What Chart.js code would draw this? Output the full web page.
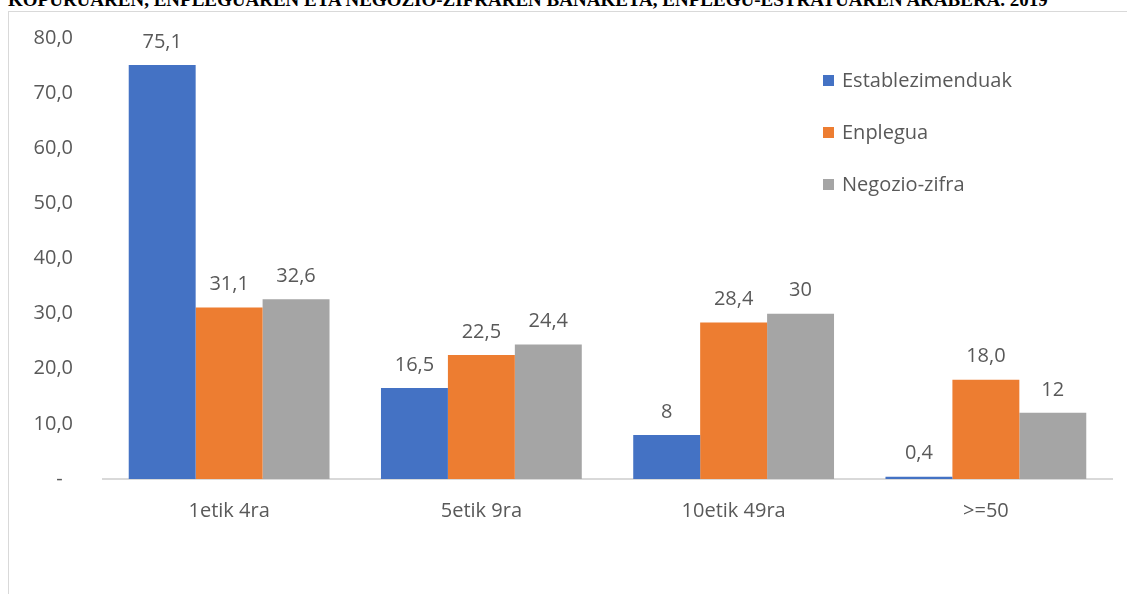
<!DOCTYPE html>
<html>
<head>
<meta charset="utf-8">
<script src="https://cdn.jsdelivr.net/npm/chart.js@4"></script>
<style>
    html, body { margin: 0; padding: 0; background: #fff; overflow: hidden; }
    body { width: 1127px; height: 594px; position: relative; }
    #title {
        position: absolute; left: 8px; top: -11px; white-space: nowrap;
        font-family: "Liberation Serif", "DejaVu Serif", serif; font-weight: bold;
        font-size: 19px; color: #000;
    }
    #frame {
        position: absolute; left: 8px; top: 11px; width: 1140px; height: 600px;
        border: 1px solid #d9d9d9; box-sizing: border-box;
    }
    #wrap { position: absolute; left: 1px; top: 1px; width: 1118px; height: 582px; }
</style>
</head>
<body>
<div id="title">KOPURUAREN, ENPLEGUAREN ETA NEGOZIO-ZIFRAREN BANAKETA, ENPLEGU-ESTRATUAREN ARABERA. 2019</div>
<div id="frame">
    <div id="wrap"><canvas id="grafikoa"></canvas></div>
</div>
<script>
const CATEGORIES = ['1etik 4ra', '5etik 9ra', '10etik 49ra', '>=50'];

const SERIES_NAMES = ['Establezimenduak', 'Enplegua', 'Negozio-zifra'];

const ESTABLEZIMENDUAK = [75.1, 16.5, 8, 0.4];
const ENPLEGUA = [31.1, 22.5, 28.4, 18.0];
const NEGOZIO_ZIFRA = [32.6, 24.4, 30, 12];

// labels as printed above the bars in the original
const ESTABLEZIMENDUAK_LABELS = ['75,1', '16,5', '8', '0,4'];
const ENPLEGUA_LABELS = ['31,1', '22,5', '28,4', '18,0'];
const NEGOZIO_ZIFRA_LABELS = ['32,6', '24,4', '30', '12'];

const Y_TICKS = [0, 10, 20, 30, 40, 50, 60, 70, 80];

const COLORS = ['#4472c4', '#ed7d31', '#a5a5a5'];
const FONT = '"Open Sans", Lato, sans-serif';
const FONT_SIZE = 20;
const TEXT = '#595959';

const valueLabels = {
    id: 'valueLabels',
    afterDatasetsDraw(chart) {
        const ctx = chart.ctx;
        ctx.save();
        ctx.font = FONT_SIZE + 'px ' + FONT;
        ctx.fillStyle = TEXT;
        ctx.textAlign = 'center';
        ctx.textBaseline = 'middle';
        chart.data.datasets.forEach((ds, i) => {
            chart.getDatasetMeta(i).data.forEach((bar, j) => {
                ctx.fillText(ds.valueLabels[j], bar.x, bar.y - 23);
            });
        });
        ctx.restore();
    }
};

const insideLegend = {
    id: 'insideLegend',
    afterDraw(chart) {
        const ctx = chart.ctx;
        ctx.save();
        ctx.font = FONT_SIZE + 'px ' + FONT;
        ctx.textBaseline = 'middle';
        ctx.textAlign = 'left';
        chart.data.datasets.forEach((ds, i) => {
            const y = 68 + i * 52;
            ctx.fillStyle = ds.backgroundColor;
            ctx.fillRect(813, y - 6, 11, 11);
            ctx.fillStyle = TEXT;
            ctx.fillText(ds.label, 832, y);
        });
        ctx.restore();
    }
};

const chartGrafikoa = new Chart(document.getElementById('grafikoa'), {
    type: 'bar',
    data: {
        labels: CATEGORIES,
        datasets: [
            { label: SERIES_NAMES[0], data: ESTABLEZIMENDUAK, valueLabels: ESTABLEZIMENDUAK_LABELS, backgroundColor: COLORS[0] },
            { label: SERIES_NAMES[1], data: ENPLEGUA, valueLabels: ENPLEGUA_LABELS, backgroundColor: COLORS[1] },
            { label: SERIES_NAMES[2], data: NEGOZIO_ZIFRA, valueLabels: NEGOZIO_ZIFRA_LABELS, backgroundColor: COLORS[2] }
        ]
    },
    options: {
        responsive: true,
        maintainAspectRatio: false,
        animation: false,
        categoryPercentage: 0.796,
        barPercentage: 1.0,
        layout: { padding: { top: 0, right: 16, left: 0, bottom: 0 } },
        plugins: {
            legend: { display: false },
            tooltip: { enabled: false }
        },
        scales: {
            x: {
                grid: { display: false, drawTicks: false },
                border: { color: '#d9d9d9', width: 2 },
                ticks: { color: TEXT, font: { family: FONT, size: FONT_SIZE }, padding: 20 },
                afterFit: (scale) => { scale.height = 116; }
            },
            y: {
                min: 0,
                max: 80,
                afterBuildTicks: (scale) => { scale.ticks = Y_TICKS.map(v => ({ value: v })); },
                grid: { display: false, drawTicks: false },
                border: { display: false },
                ticks: {
                    color: TEXT,
                    font: { family: FONT, size: FONT_SIZE },
                    padding: 30,
                    callback: (v) => v === 0 ? '-  ' : v.toFixed(1).replace('.', ',')
                },
                afterFit: (scale) => {
                    scale.width = 93;
                    scale.paddingTop = 25;
                }
            }
        }
    },
    plugins: [valueLabels, insideLegend]
});
</script>
</body>
</html>
